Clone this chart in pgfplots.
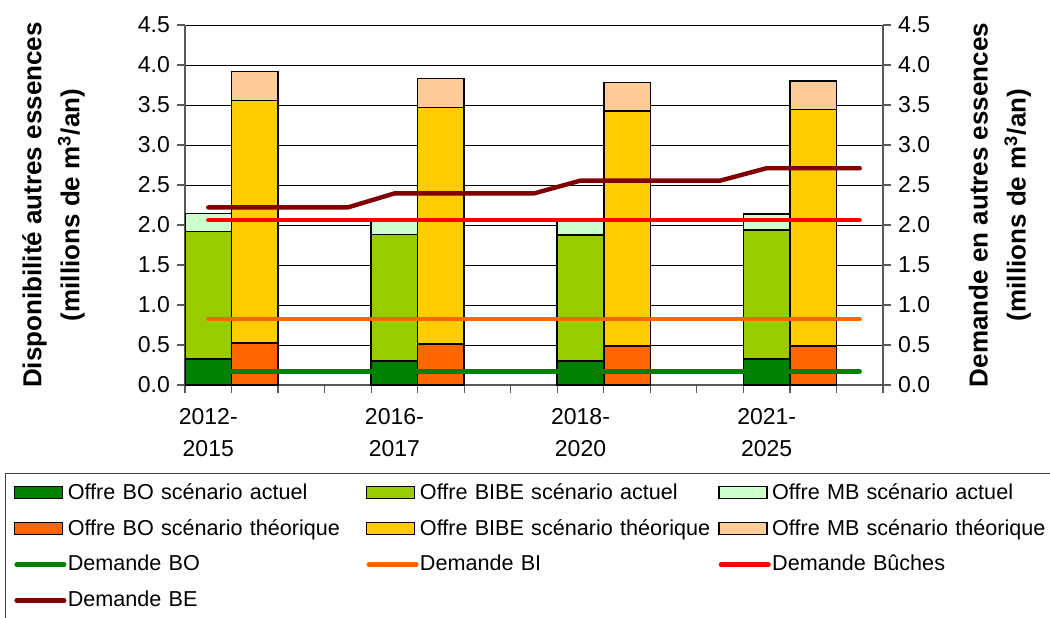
\documentclass[border=0pt]{standalone}
\usepackage{pgfplots}
\pgfplotsset{compat=1.18}
\usepackage{fontspec}
\setmainfont{Liberation Sans}
\definecolor{boA}{RGB}{0,128,0}
\definecolor{bibeA}{RGB}{153,204,0}
\definecolor{mbA}{RGB}{204,255,204}
\definecolor{boT}{RGB}{255,102,0}
\definecolor{bibeT}{RGB}{255,204,0}
\definecolor{mbT}{RGB}{255,204,153}
\definecolor{dBO}{RGB}{0,128,0}
\definecolor{dBI}{RGB}{255,102,0}
\definecolor{dBU}{RGB}{255,0,0}
\definecolor{dBE}{RGB}{128,0,0}
\begin{document}
\begin{tikzpicture}
\useasboundingbox (-92.5pt,-116pt) rectangle (432.5pt,192.5pt);
\pgfplotsset{
  base/.style={scale only axis, width=349pt, height=180pt,
    xmin=-0.5, xmax=14.5, ymin=0, ymax=4.5,
    ytick={0,0.5,1,1.5,2,2.5,3,3.5,4,4.5},
    /pgf/number format/assume math mode=true,
    yticklabel style={/pgf/number format/fixed, /pgf/number format/fixed zerofill,
      /pgf/number format/precision=1, font=\fontsize{11.5}{13}\selectfont},
    tick align=outside, major tick length=4pt,
    axis line style={black!65, line width=0.8pt},
    tick style={black!65, line width=0.6pt},
    ylabel style={align=center, anchor=center, font=\bfseries\fontsize{13}{19}\selectfont},
  },
  barleg/.style={legend image code/.code={\draw[##1, line width=0.8pt] (0pt,-3pt) rectangle (24pt,3pt);}},
  lineleg/.style={legend image code/.code={\draw[##1, line cap=round] (1.1pt,0pt) -- (24.9pt,0pt);}},
}
\begin{axis}[base, ybar stacked, bar width=1,
  axis y line*=left, axis x line*=bottom,
  ymajorgrids, grid style={black, line width=0.5pt},
  xtick={-0.5,0.5,1.5,2.5,3.5,4.5,5.5,6.5,7.5,8.5,9.5,10.5,11.5,12.5,13.5,14.5},
  xticklabels={},
  extra x ticks={0,4,8,12},
  extra x tick labels={{2012-\\2015},{2016-\\2017},{2018-\\2020},{2021-\\2025}},
  extra x tick style={major tick length=0pt, grid=none,
    tick label style={align=center, font=\fontsize{11.5}{16}\selectfont, yshift=-8pt}},
  ylabel={Disponibilité autres essences\\(millions de m\textsuperscript{3}/an)},
  ylabel style={at={([xshift=-65.75pt]rel axis cs:0,0.5)}},
]
\addplot[fill=boA, draw=black, line width=0.8pt] coordinates {(0,0.325) (1,0) (4,0.30) (5,0) (8,0.30) (9,0) (12,0.325) (13,0)};
\addplot[fill=bibeA, draw=black, line width=0.8pt] coordinates {(0,1.595) (1,0) (4,1.58) (5,0) (8,1.575) (9,0) (12,1.615) (13,0)};
\addplot[fill=mbA, draw=black, line width=0.8pt] coordinates {(0,0.226) (1,0) (4,0.17) (5,0) (8,0.175) (9,0) (12,0.20) (13,0)};
\addplot[fill=boT, draw=black, line width=0.8pt] coordinates {(0,0) (1,0.525) (4,0) (5,0.51) (8,0) (9,0.49) (12,0) (13,0.49)};
\addplot[fill=bibeT, draw=black, line width=0.8pt] coordinates {(0,0) (1,3.03) (4,0) (5,2.96) (8,0) (9,2.935) (12,0) (13,2.955)};
\addplot[fill=mbT, draw=black, line width=0.8pt] coordinates {(0,0) (1,0.365) (4,0) (5,0.36) (8,0) (9,0.355) (12,0) (13,0.355)};
\end{axis}
\begin{axis}[base, axis y line*=right, axis x line=none,
  ylabel={Demande en autres essences\\(millions de m\textsuperscript{3}/an)},
  ylabel style={at={([xshift=58.5pt]rel axis cs:1,0.5)}},
  legend columns=3, legend cell align=left,
  legend style={at={([xshift=-90pt,yshift=-44pt]rel axis cs:0,0)}, anchor=north west,
    draw=black!75, line width=0.6pt, inner xsep=4pt, inner ysep=0.5pt,
    row sep=0pt, column sep=0pt,
    font=\fontsize{10.8}{12}\selectfont,
    nodes={text width=148.3pt, inner xsep=0.7pt, inner ysep=0pt, minimum height=18pt}},
]
\addlegendimage{barleg, fill=boA, draw=black}
\addlegendimage{barleg, fill=bibeA, draw=black}
\addlegendimage{barleg, fill=mbA, draw=black}
\addlegendimage{barleg, fill=boT, draw=black}
\addlegendimage{barleg, fill=bibeT, draw=black}
\addlegendimage{barleg, fill=mbT, draw=black}
\addplot[dBO, line width=2.2pt, line cap=round, lineleg] coordinates {(0,0.17) (14,0.17)};
\addplot[dBI, line width=2.2pt, line cap=round, lineleg] coordinates {(0,0.825) (14,0.825)};
\addplot[dBU, line width=2.2pt, line cap=round, lineleg] coordinates {(0,2.06) (14,2.06)};
\addplot[dBE, line width=2.2pt, line cap=round, line join=round, lineleg] coordinates {(0,2.22) (3,2.22) (4,2.395) (7,2.395) (8,2.555) (11,2.555) (12,2.71) (14,2.71)};
\legend{Offre BO scénario actuel, Offre BIBE scénario actuel, Offre MB scénario actuel,
  Offre BO scénario théorique, Offre BIBE scénario théorique, Offre MB scénario théorique,
  Demande BO, Demande BI, Demande Bûches, Demande BE}
\end{axis}
\end{tikzpicture}
\end{document}
